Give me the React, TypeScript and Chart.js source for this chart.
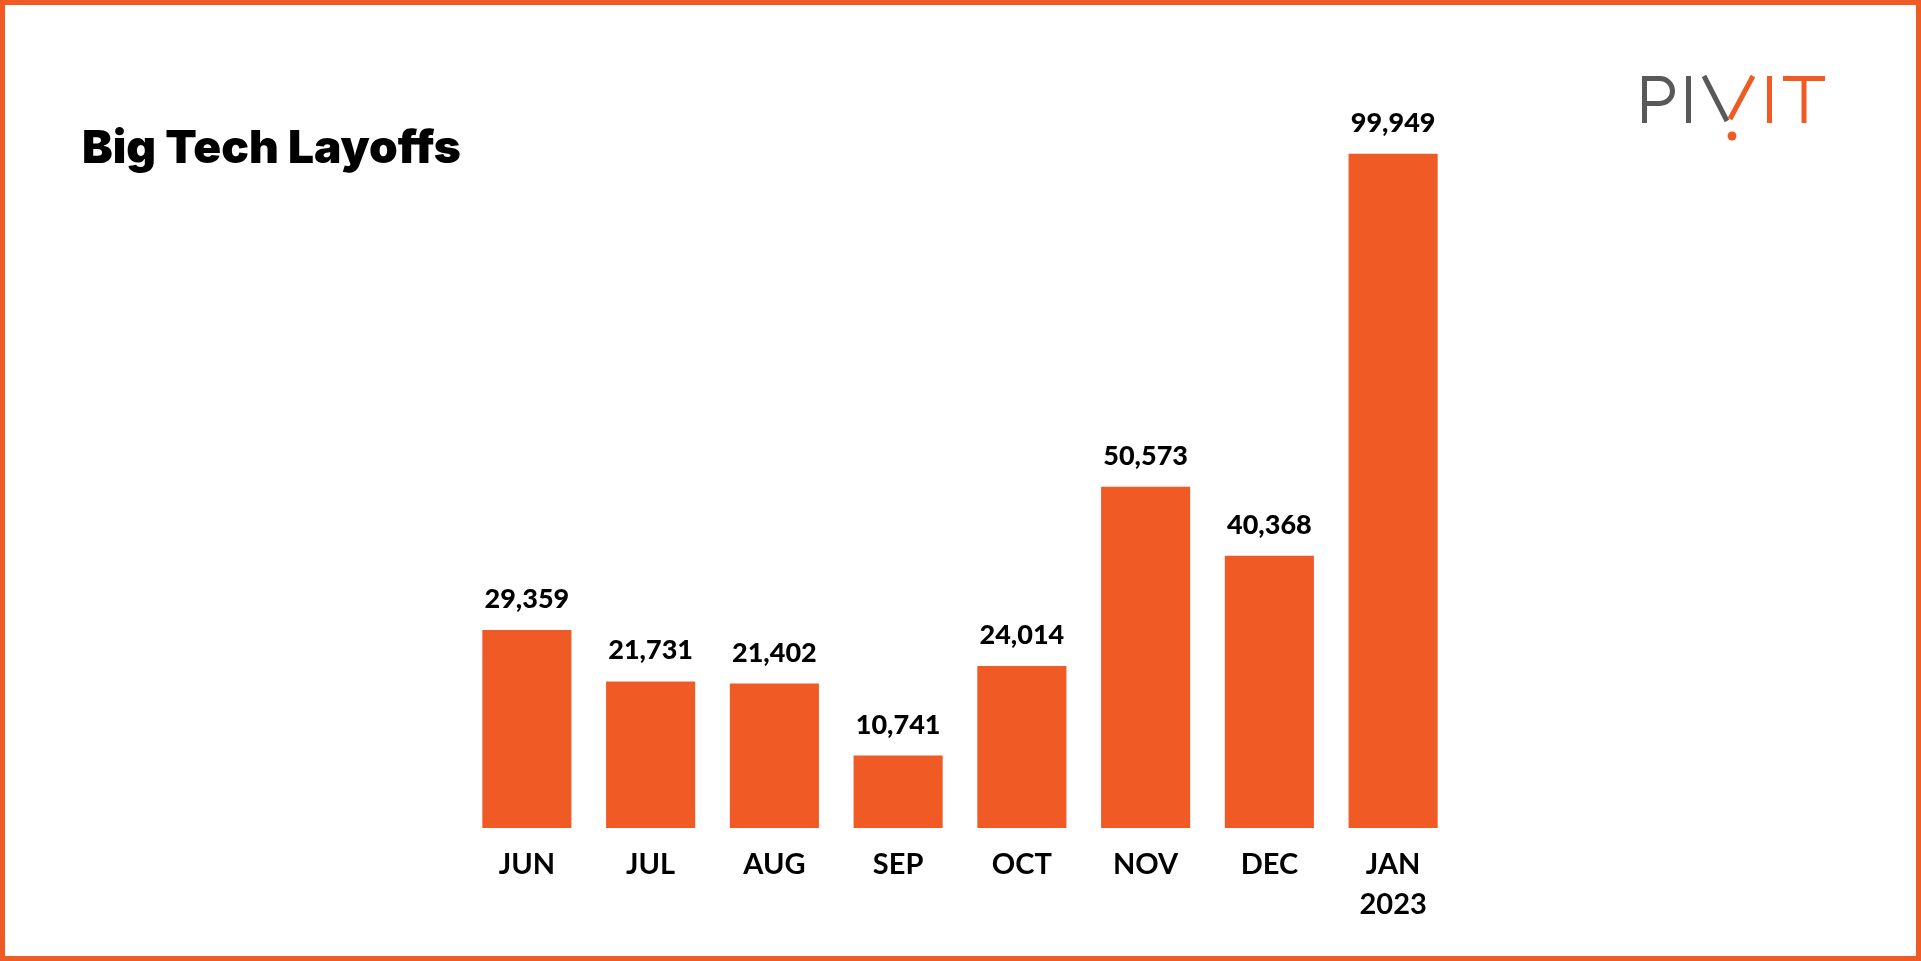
import React, { useEffect, useRef } from "react";
import { Chart, registerables } from "chart.js";

Chart.register(...registerables);

const categories: (string | string[])[] = ["JUN", "JUL", "AUG", "SEP", "OCT", "NOV", "DEC", ["JAN", "2023"]];
const layoffs: number[] = [29359, 21731, 21402, 10741, 24014, 50573, 40368, 99949];
const titleText = "Big Tech Layoffs";

const ORANGE = "#F05A24";
const GRAY = "#58595B";
const W = 1921;
const H = 961;

const valueLabels = {
  id: "valueLabels",
  afterDatasetsDraw(chart: any) {
    const ctx = chart.ctx;
    const meta = chart.getDatasetMeta(0);
    ctx.save();
    ctx.fillStyle = "#000";
    ctx.font = "900 27px Lato, 'Open Sans', sans-serif";
    ctx.textAlign = "center";
    ctx.textBaseline = "alphabetic";
    meta.data.forEach((bar: any, i: number) => {
      const v = chart.data.datasets[0].data[i] as number;
      ctx.fillText(v.toLocaleString("en-US"), bar.x, bar.y - 22);
    });
    ctx.restore();
  },
};

const titlePlugin = {
  id: "titleText",
  afterDraw(chart: any) {
    const ctx = chart.ctx;
    ctx.save();
    ctx.fillStyle = "#000";
    ctx.font = "900 46px Inter, Roboto, sans-serif";
    ctx.textAlign = "left";
    ctx.textBaseline = "alphabetic";
    ctx.fillText(titleText, 82, 163);
    ctx.restore();
  },
};

export default function App() {
  const ref = useRef<HTMLCanvasElement | null>(null);

  useEffect(() => {
    document.body.style.margin = "0";
    const canvas = ref.current;
    if (!canvas) return;
    const chart = new Chart(canvas, {
      type: "bar",
      data: {
        labels: categories,
        datasets: [
          {
            data: layoffs,
            backgroundColor: ORANGE,
            borderWidth: 0,
            categoryPercentage: 1,
            barPercentage: 0.72,
          },
        ],
      },
      options: {
        animation: false,
        responsive: false,
        devicePixelRatio: 1,
        layout: { padding: { left: 465, right: 466, top: 86, bottom: 19 } },
        plugins: {
          legend: { display: false },
          tooltip: { enabled: false },
          title: { display: false },
        },
        scales: {
          x: {
            grid: { display: false, drawTicks: false },
            border: { display: false },
            ticks: {
              color: "#000",
              padding: 17,
              maxRotation: 0,
              autoSkip: false,
              font: { family: "Lato, 'Open Sans', sans-serif", size: 29, weight: "bold", lineHeight: 1.38 },
            },
          },
          y: {
            display: false,
            min: 0,
            max: 110000,
          },
        },
      },
      plugins: [valueLabels, titlePlugin],
    });
    return () => chart.destroy();
  }, []);

  return (
    <div style={{ position: "fixed", left: 0, top: 0, width: W, height: H, background: "#fff", overflow: "hidden" }}>
      <canvas ref={ref} width={W} height={H} style={{ position: "absolute", left: 0, top: 0, width: W, height: H }} />
      <svg width={W} height={H} style={{ position: "absolute", left: 0, top: 0, pointerEvents: "none" }}>
        <g fill="none" strokeWidth={5} strokeLinecap="butt">
          <path d="M1644.5 123 V78.5 H1660 A12.5 12.5 0 0 1 1660 103.5 H1644.5" stroke={GRAY} />
          <path d="M1688.5 76 V123" stroke={GRAY} />
          <path d="M1704 76 L1727 121" stroke={GRAY} />
          <path d="M1753 76 L1730 119" stroke={ORANGE} />
          <path d="M1769.5 76 V123" stroke={ORANGE} />
          <path d="M1783 78.5 H1825 M1804 78.5 V123" stroke={ORANGE} />
        </g>
        <circle cx={1732} cy={136} r={4.5} fill={ORANGE} />
      </svg>
      <div style={{ position: "absolute", left: 0, top: 0, width: W, height: H, boxSizing: "border-box", border: `5px solid ${ORANGE}`, pointerEvents: "none" }} />
    </div>
  );
}
